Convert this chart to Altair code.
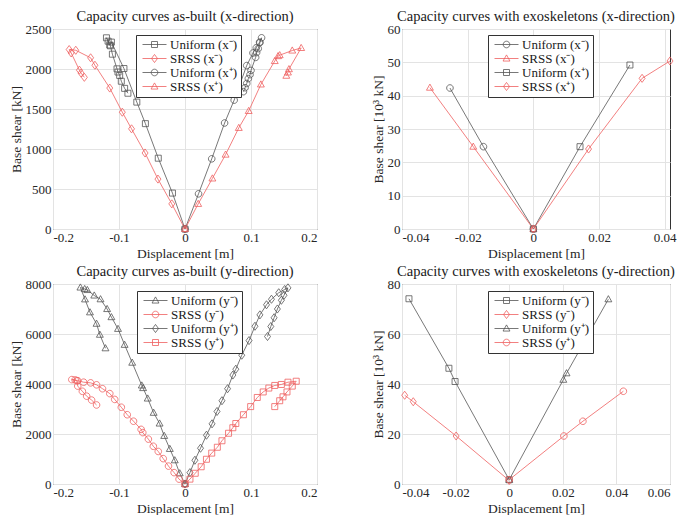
import altair as alt
import pandas as pd

GRAY = "#555555"
RED = "#ef6060"
FONT = "Liberation Serif"
X_TITLE = "Displacement [m]"

# ---------------- Panel 1: as-built, x-direction ----------------
P1_TITLE = "Capacity curves as-built (x-direction)"
P1_YTITLE = "Base shear [kN]"
P1_NAMES = ["Uniform (x⁻)", "SRSS (x⁻)", "Uniform (x⁺)", "SRSS (x⁺)"]
P1_UNI_XM_X = [0, -0.019, -0.0405, -0.060, -0.073, -0.0925, -0.1115, -0.114, -0.119, -0.1165,
               -0.113, -0.110, -0.103, -0.1015, -0.099, -0.0965, -0.0915, -0.0865]
P1_UNI_XM_Y = [0, 449, 885, 1317, 1586, 2006, 2336, 2300, 2390, 2348,
               2290, 2185, 2002, 1962, 1920, 1847, 1758, 1697]
P1_SRSS_XM_X = [0, -0.020, -0.041, -0.0605, -0.081, -0.095, -0.114, -0.1365, -0.143, -0.1655,
                -0.1755, -0.1725, -0.160, -0.1575, -0.1525]
P1_SRSS_XM_Y = [0, 314, 624, 950, 1252, 1460, 1762, 2047, 2140, 2234,
                2243, 2201, 1986, 1949, 1896]
P1_UNI_XP_X = [0, 0.0205, 0.0405, 0.060, 0.0745, 0.0935, 0.103, 0.108, 0.113, 0.116,
               0.1135, 0.111, 0.1085, 0.107, 0.100, 0.0985, 0.096, 0.0935, 0.091, 0.0885]
P1_UNI_XP_Y = [0, 440, 877, 1325, 1611, 2043, 2200, 2265, 2335, 2390,
               2329, 2255, 2206, 2145, 1982, 1929, 1880, 1819, 1766, 1717]
P1_SRSS_XP_X = [0, 0.020, 0.0415, 0.0615, 0.0815, 0.0965, 0.115, 0.136, 0.141, 0.1435,
                0.1625, 0.176, 0.1575, 0.156, 0.1535]
P1_SRSS_XP_Y = [0, 314, 632, 930, 1264, 1476, 1807, 2100, 2161, 2173,
                2231, 2263, 1998, 1957, 1916]

# ---------------- Panel 2: exoskeletons, x-direction ----------------
P2_TITLE = "Capacity curves with exoskeletons (x-direction)"
P2_YTITLE = "Base shear [10³ kN]"
P2_NAMES = ["Uniform (x⁻)", "SRSS (x⁻)", "Uniform (x⁺)", "SRSS (x⁺)"]
P2_UNI_XM_X = [0, -0.0152, -0.0254]
P2_UNI_XM_Y = [0, 24.7, 42.3]
P2_SRSS_XM_X = [0, -0.0183, -0.0315]
P2_SRSS_XM_Y = [0, 24.7, 42.4]
P2_UNI_XP_X = [0, 0.0142, 0.0294]
P2_UNI_XP_Y = [0, 24.7, 49.2]
P2_SRSS_XP_X = [0, 0.0168, 0.0331, 0.0416]
P2_SRSS_XP_Y = [0, 24.0, 45.2, 50.4]

# ---------------- Panel 3: as-built, y-direction ----------------
P3_TITLE = "Capacity curves as-built (y-direction)"
P3_YTITLE = "Base shear [kN]"
P3_NAMES = ["Uniform (y⁻)", "SRSS (y⁻)", "Uniform (y⁺)", "SRSS (y⁺)"]
P3_UNI_YM_X = [0, -0.008, -0.0155, -0.023, -0.0315, -0.0385, -0.0475, -0.0565, -0.0635, -0.0655,
               -0.080, -0.0915, -0.1015, -0.1115, -0.118, -0.128, -0.1375, -0.148, -0.152, -0.1585,
               -0.1515, -0.144, -0.134, -0.129, -0.1205]
P3_UNI_YM_Y = [0, 429, 950, 1405, 1925, 2420, 2850, 3420, 3838, 3942,
               4853, 5568, 6206, 6674, 7000, 7390, 7540, 7760, 7800, 7860,
               7386, 6868, 6411, 5972, 5430]
P3_SRSS_YM_X = [0, -0.009, -0.0165, -0.025, -0.033, -0.0405, -0.048, -0.0555, -0.064, -0.0665,
                -0.078, -0.0875, -0.0965, -0.1065, -0.114, -0.125, -0.134, -0.143, -0.1535, -0.1625,
                -0.1665, -0.1715, -0.164, -0.1625, -0.1555, -0.149, -0.1415, -0.134]
P3_SRSS_YM_Y = [0, 195, 455, 716, 1015, 1301, 1509, 1795, 2056, 2186,
                2511, 2771, 3070, 3383, 3617, 3812, 3968, 4046, 4072, 4130,
                4163, 4176, 4137, 3916, 3708, 3513, 3357, 3161]
P3_UNI_YP_X = [0, 0.0075, 0.015, 0.0235, 0.0325, 0.041, 0.0485, 0.056, 0.0645, 0.0725,
               0.077, 0.086, 0.097, 0.106, 0.1135, 0.1235, 0.131, 0.142, 0.151, 0.156,
               0.150, 0.146, 0.140, 0.135, 0.130, 0.125]
P3_UNI_YP_Y = [0, 455, 950, 1431, 1951, 2407, 2901, 3331, 3812, 4358,
               4592, 5152, 5737, 6310, 6765, 7169, 7390, 7650, 7780, 7845,
               7550, 7350, 7000, 6650, 6300, 5900]
P3_SRSS_YP_X = [0, 0.0075, 0.0155, 0.0245, 0.0325, 0.0405, 0.049, 0.056, 0.066, 0.0725,
                0.077, 0.0885, 0.0995, 0.1095, 0.1185, 0.127, 0.136, 0.146, 0.156, 0.1685,
                0.1625, 0.1545, 0.1485, 0.1435, 0.136]
P3_SRSS_YP_Y = [0, 195, 429, 690, 989, 1236, 1470, 1730, 2030, 2251,
                2420, 2771, 3096, 3461, 3682, 3838, 3942, 3981, 4072, 4111,
                3916, 3682, 3487, 3331, 3096]

# ---------------- Panel 4: exoskeletons, y-direction ----------------
P4_TITLE = "Capacity curves with exoskeletons (y-direction)"
P4_YTITLE = "Base shear [10³ kN]"
P4_NAMES = ["Uniform (y⁻)", "SRSS (y⁻)", "Uniform (y⁺)", "SRSS (y⁺)"]
P4_UNI_YM_X = [0, -0.0202, -0.0225, -0.0374]
P4_UNI_YM_Y = [1.7, 41.0, 46.3, 74.1]
P4_SRSS_YM_X = [0, -0.0198, -0.0358, -0.039]
P4_SRSS_YM_Y = [1.4, 19.2, 32.9, 35.5]
P4_UNI_YP_X = [0, 0.0202, 0.0214, 0.037]
P4_UNI_YP_Y = [1.7, 41.7, 44.3, 73.9]
P4_SRSS_YP_X = [0, 0.0204, 0.0275, 0.0426]
P4_SRSS_YP_Y = [1.7, 19.2, 25.1, 37.1]

# marker outlines (unit box), and legend symbols = line + marker
MARK = {
    "square": "M-1,-1L1,-1L1,1L-1,1Z",
    "diamond": "M0,-1.35L1,0L0,1.35L-1,0Z",
    "circle": "M-1.1,0A1.1,1.1,0,1,1,1.1,0A1.1,1.1,0,1,1,-1.1,0Z",
    "triangle": "M0,-1.2L1.15,0.85L-1.15,0.85Z",
}
LEG = {k: "M-4,0L4,0 " + v for k, v in MARK.items()}


def panel(title, ytitle, series, xdom, xticks, ydom, yticks, lx, ly, w, h):
    frames = []
    for name, xs, ys, color, shape in series:
        frames.append(pd.DataFrame({"series": name, "i": list(range(len(xs))), "x": xs, "y": ys}))
    df = pd.concat(frames, ignore_index=True)
    xenc = alt.X("x:Q", scale=alt.Scale(domain=xdom, nice=False, zero=False),
                 axis=alt.Axis(values=xticks, title=X_TITLE, labelExpr="datum.value + ''"))
    yenc = alt.Y("y:Q", scale=alt.Scale(domain=ydom, nice=False, zero=False),
                 axis=alt.Axis(values=yticks, title=ytitle, labelExpr="datum.value + ''"))
    base = alt.Chart(df)
    layers = []
    for name, xs, ys, color, shape in series:
        sub = base.transform_filter(alt.datum.series == name)
        layers.append(sub.mark_line(color=color, strokeWidth=0.8).encode(x=xenc, y=yenc, order="i:Q"))
        layers.append(sub.mark_point(shape=MARK[shape], size=36, color=color, filled=False,
                                     strokeWidth=0.8, opacity=1).encode(x=xenc, y=yenc))
    names = [s[0] for s in series]
    leg = alt.Legend(title=None, orient="none", legendX=lx, legendY=ly)
    layers.append(
        base.transform_filter("false")
        .mark_point(filled=False, size=36, strokeWidth=0.8, opacity=1)
        .encode(
            x=xenc, y=yenc,
            color=alt.Color("series:N", scale=alt.Scale(domain=names, range=[s[3] for s in series]), legend=leg),
            shape=alt.Shape("series:N", scale=alt.Scale(domain=names, range=[LEG[s[4]] for s in series]), legend=leg),
        )
    )
    return alt.layer(*layers).properties(
        width=w, height=h,
        title=alt.Title(title, font=FONT, fontSize=14.5, fontWeight="normal", color="#1a1a1a",
                        offset=-1, frame="group", anchor="middle"),
    )


H = 200
XT1 = [-0.2, -0.1, 0, 0.1, 0.2]
p1 = panel(P1_TITLE, P1_YTITLE, [
    (P1_NAMES[0], P1_UNI_XM_X, P1_UNI_XM_Y, GRAY, "square"),
    (P1_NAMES[1], P1_SRSS_XM_X, P1_SRSS_XM_Y, RED, "diamond"),
    (P1_NAMES[2], P1_UNI_XP_X, P1_UNI_XP_Y, GRAY, "circle"),
    (P1_NAMES[3], P1_SRSS_XP_X, P1_SRSS_XP_Y, RED, "triangle"),
], [-0.2, 0.2], XT1, [0, 2500], [0, 500, 1000, 1500, 2000, 2500], 83, 6, 264, H)

p2 = panel(P2_TITLE, P2_YTITLE, [
    (P2_NAMES[0], P2_UNI_XM_X, P2_UNI_XM_Y, GRAY, "circle"),
    (P2_NAMES[1], P2_SRSS_XM_X, P2_SRSS_XM_Y, RED, "triangle"),
    (P2_NAMES[2], P2_UNI_XP_X, P2_UNI_XP_Y, GRAY, "square"),
    (P2_NAMES[3], P2_SRSS_XP_X, P2_SRSS_XP_Y, RED, "diamond"),
], [-0.04, 0.0416], [-0.04, -0.02, 0, 0.02, 0.04], [0, 60], [0, 10, 20, 30, 40, 50, 60], 86, 6, 268, H)

p3 = panel(P3_TITLE, P3_YTITLE, [
    (P3_NAMES[0], P3_UNI_YM_X, P3_UNI_YM_Y, GRAY, "triangle"),
    (P3_NAMES[1], P3_SRSS_YM_X, P3_SRSS_YM_Y, RED, "circle"),
    (P3_NAMES[2], P3_UNI_YP_X, P3_UNI_YP_Y, GRAY, "diamond"),
    (P3_NAMES[3], P3_SRSS_YP_X, P3_SRSS_YP_Y, RED, "square"),
], [-0.2, 0.2], XT1, [0, 8000], [0, 2000, 4000, 6000, 8000], 84, 7, 264, H)

p4 = panel(P4_TITLE, P4_YTITLE, [
    (P4_NAMES[0], P4_UNI_YM_X, P4_UNI_YM_Y, GRAY, "square"),
    (P4_NAMES[1], P4_SRSS_YM_X, P4_SRSS_YM_Y, RED, "diamond"),
    (P4_NAMES[2], P4_UNI_YP_X, P4_UNI_YP_Y, GRAY, "triangle"),
    (P4_NAMES[3], P4_SRSS_YP_X, P4_SRSS_YP_Y, RED, "circle"),
], [-0.04, 0.06], [-0.04, -0.02, 0, 0.02, 0.04, 0.06], [0, 80], [0, 20, 40, 60, 80], 86, 7, 268, H)

IND = dict(color="independent", shape="independent")
row1 = alt.hconcat(p1, p2, spacing=52).resolve_scale(**IND).resolve_legend(**IND)
row2 = alt.hconcat(p3, p4, spacing=52).resolve_scale(**IND).resolve_legend(**IND)

chart = alt.vconcat(row1, row2, spacing=3).resolve_scale(**IND).resolve_legend(**IND).properties(
    padding={"left": 0, "top": 0, "right": 0, "bottom": 0}
).configure_axis(
    labelFont=FONT, titleFont=FONT, labelFontSize=13, titleFontSize=13.5,
    titleFontWeight="normal", labelColor="#262626", titleColor="#262626",
    gridColor="#e3e3e3", gridWidth=1, domain=False, ticks=False,
    labelPadding=2, titlePadding=2,
).configure_view(
    stroke="#333333", strokeWidth=1
).configure_legend(
    labelFont=FONT, labelFontSize=13, labelColor="#1a1a1a",
    strokeColor="#333333", fillColor="white", padding=3, rowPadding=0,
    symbolOffset=9, labelOffset=9, symbolStrokeWidth=0.8, symbolSize=36,
)

chart.save("out.html", embed_options={"renderer": "svg", "actions": False})
